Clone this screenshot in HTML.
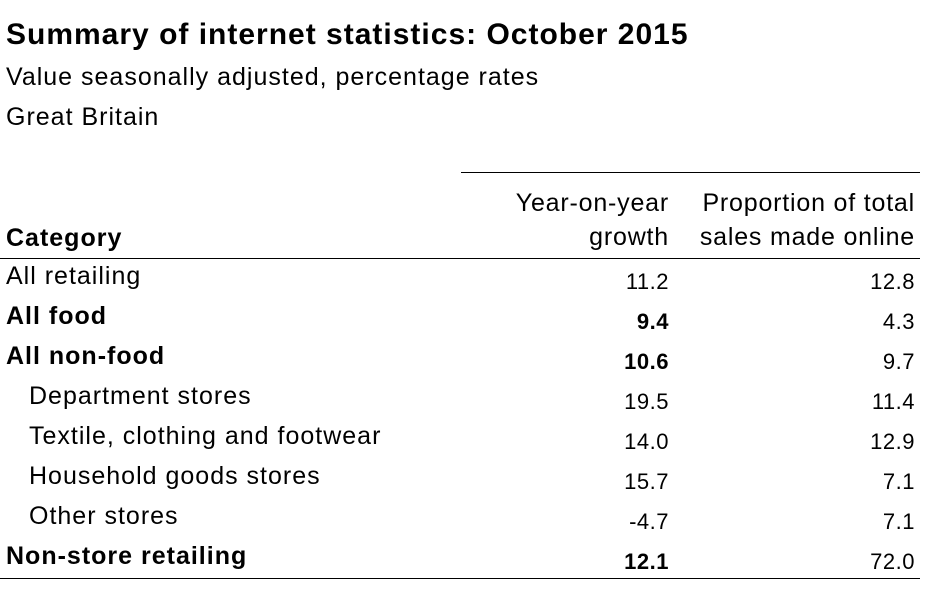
<!DOCTYPE html>
<html><head><meta charset="utf-8"><style>
body{margin:0;width:950px;height:596px;background:#fff;font-family:"Liberation Sans",Arial,sans-serif;color:#000;position:relative;overflow:hidden}
div{position:absolute;white-space:nowrap}
.t{font-size:25px;letter-spacing:1px}
.h{font-size:25px;letter-spacing:0.8px;text-align:right}
.n{font-size:22px;letter-spacing:0.5px;text-align:right}
.c1{right:281px}
.c2{right:35px}
.line{background:#000;height:1px}
</style></head><body>
<div style="left:6px;top:18px;font-size:30px;letter-spacing:1px;font-weight:bold">Summary of internet statistics: October 2015</div>
<div class="t" style="left:6px;top:63px">Value seasonally adjusted, percentage rates</div>
<div class="t" style="left:6px;top:103px">Great Britain</div>
<div class="line" style="left:461px;top:172px;width:459px"></div>
<div class="h" style="right:281px;top:189px">Year-on-year</div>
<div class="h" style="right:281px;top:223px">growth</div>
<div class="h" style="right:35px;top:189px">Proportion of total</div>
<div class="h" style="right:35px;top:223px">sales made online</div>
<div class="t" style="left:6px;top:224px;font-weight:bold">Category</div>
<div class="line" style="left:0;top:258px;width:920px"></div>

<div class="t" style="left:6px;top:262px">All retailing</div>
<div class="n c1" style="top:269px">11.2</div><div class="n c2" style="top:269px">12.8</div>

<div class="t" style="left:6px;top:302px;font-weight:bold">All food</div>
<div class="n c1" style="top:309px;font-weight:bold">9.4</div><div class="n c2" style="top:309px">4.3</div>

<div class="t" style="left:6px;top:342px;font-weight:bold">All non-food</div>
<div class="n c1" style="top:349px;font-weight:bold">10.6</div><div class="n c2" style="top:349px">9.7</div>

<div class="t" style="left:29px;top:382px">Department stores</div>
<div class="n c1" style="top:389px">19.5</div><div class="n c2" style="top:389px">11.4</div>

<div class="t" style="left:29px;top:422px">Textile, clothing and footwear</div>
<div class="n c1" style="top:429px">14.0</div><div class="n c2" style="top:429px">12.9</div>

<div class="t" style="left:29px;top:462px">Household goods stores</div>
<div class="n c1" style="top:469px">15.7</div><div class="n c2" style="top:469px">7.1</div>

<div class="t" style="left:29px;top:502px">Other stores</div>
<div class="n c1" style="top:509px">-4.7</div><div class="n c2" style="top:509px">7.1</div>

<div class="t" style="left:6px;top:542px;font-weight:bold">Non-store retailing</div>
<div class="n c1" style="top:549px;font-weight:bold">12.1</div><div class="n c2" style="top:549px">72.0</div>

<div class="line" style="left:0;top:578px;width:920px"></div>
</body></html>
